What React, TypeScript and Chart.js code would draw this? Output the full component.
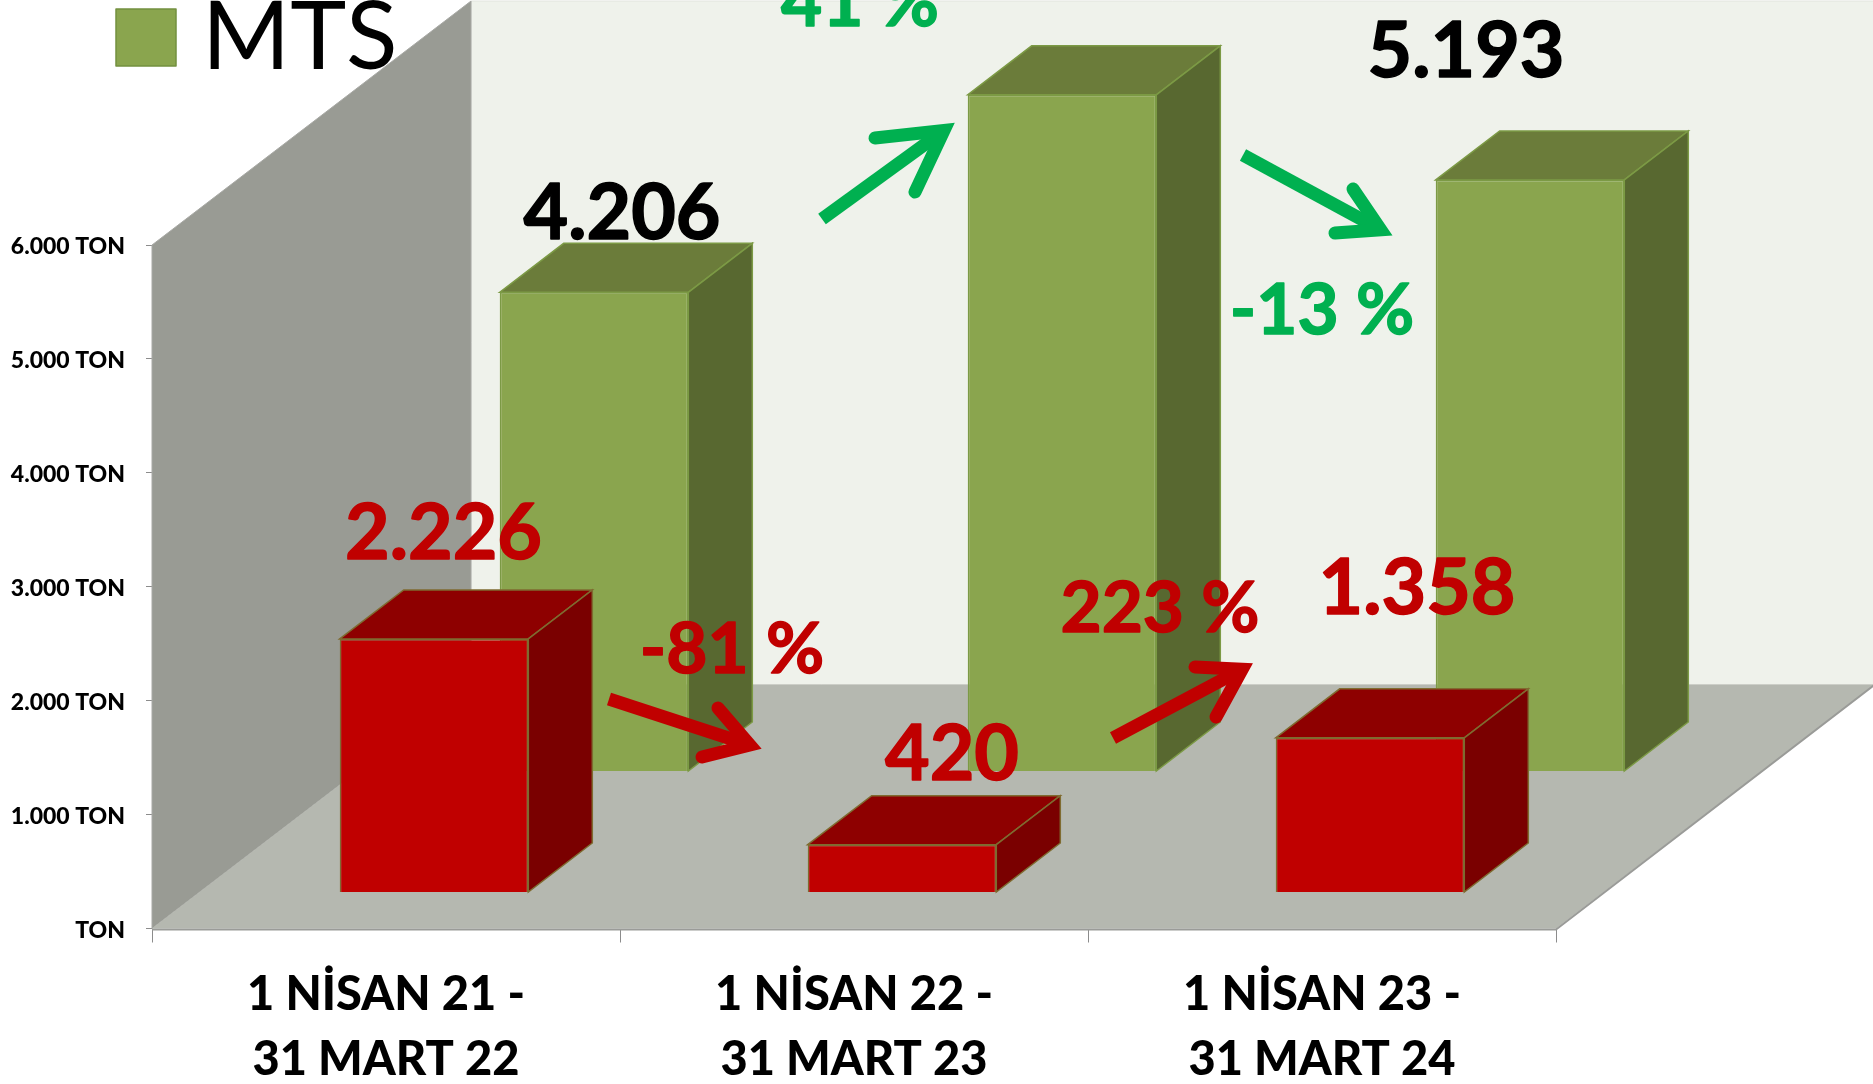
import React, { useEffect, useRef } from "react";
import { Chart, registerables } from "chart.js";

Chart.register(...registerables);

const categories = [
  ["1 NİSAN 21 -", "31 MART 22"],
  ["1 NİSAN 22 -", "31 MART 23"],
  ["1 NİSAN 23 -", "31 MART 24"],
];
const redValues = [2226, 420, 1358];
const mtsValues = [4206, 5940, 5193];
const yTickLabels = ["TON", "1.000 TON", "2.000 TON", "3.000 TON", "4.000 TON", "5.000 TON", "6.000 TON"];
const legendLabel = "MTS";

const FONT = "Lato, Carlito, Calibri, sans-serif";
const RED = "#C00000";
const ARROW_GREEN = "#00B050";

// plot geometry
const AREA = { left: 152, right: 1556, top: 245, bottom: 928.5 };
const FLOOR_DX = 319;
const FLOOR_DY = -244;
const BAR_DX = 64;
const BAR_DY = -49;

const faces: Record<string, any> = {
  red: { front: RED, top: "#8E0000", side: "#7A0000", line: "#7F6B30", offX: 48, offY: -36 },
  mts: { front: "#8AA54E", top: "#6B7C3A", side: "#586830", line: "#7C9A45", offX: 208, offY: -157 },
};

const annotations = [
  { text: "4.206", x: 622, y: 214.5, size: 77, color: "#000000" },
  { text: "5.193", x: 1466, y: 52.5, size: 77, color: "#000000" },
  { text: "2.226", x: 443.5, y: 534.5, size: 77, color: RED },
  { text: "420", x: 952, y: 755.5, size: 77, color: RED },
  { text: "1.358", x: 1417, y: 589.5, size: 77, color: RED },
  { text: "41 %", x: 860, y: 3, size: 71, color: ARROW_GREEN },
  { text: "-13 %", x: 1322, y: 311, size: 71, color: ARROW_GREEN },
  { text: "-81 %", x: 732, y: 650, size: 71, color: RED },
  { text: "223 %", x: 1160, y: 609, size: 71, color: RED },
];

const arrows = [
  { color: ARROW_GREEN, tail: [822, 219], tip: [957, 121], b1: [875, 138], b2: [915, 192] },
  { color: ARROW_GREEN, tail: [1243, 155], tip: [1396, 238], b1: [1353, 189], b2: [1335, 233] },
  { color: RED, tail: [609, 699], tip: [765, 750], b1: [718, 708], b2: [702, 757] },
  { color: RED, tail: [1113, 738], tip: [1256, 662], b1: [1195, 667], b2: [1216, 717] },
];

function poly(ctx: CanvasRenderingContext2D, pts: number[][], fill: string, stroke?: string, lw = 1) {
  ctx.beginPath();
  pts.forEach((p, i) => (i ? ctx.lineTo(p[0], p[1]) : ctx.moveTo(p[0], p[1])));
  ctx.closePath();
  ctx.fillStyle = fill;
  ctx.fill();
  if (stroke) {
    ctx.strokeStyle = stroke;
    ctx.lineWidth = lw;
    ctx.stroke();
  }
}

const scenePlugin = {
  id: "scene3d",
  beforeDatasetsDraw(chart: any) {
    const { ctx, chartArea: a } = chart;
    const bx = a.left + FLOOR_DX;
    const by = a.bottom + FLOOR_DY;
    const wallTop = a.top + FLOOR_DY;
    ctx.save();
    // back wall
    poly(ctx, [[bx, wallTop], [a.right + FLOOR_DX, wallTop], [a.right + FLOOR_DX, by], [bx, by]], "#EFF2EB", "#E2E4DE", 1);
    // left wall
    poly(ctx, [[a.left, a.top], [bx, wallTop], [bx, by], [a.left, a.bottom]], "#999B94", "#A8A9A5", 1);
    // floor
    poly(ctx, [[a.left, a.bottom], [a.right, a.bottom], [a.right + FLOOR_DX, by], [bx, by]], "#B5B8B0");
    ctx.strokeStyle = "#9A9B98";
    ctx.lineWidth = 2;
    ctx.beginPath();
    ctx.moveTo(a.left, a.bottom + 1);
    ctx.lineTo(a.right, a.bottom + 1);
    ctx.lineTo(a.right + FLOOR_DX, by);
    ctx.stroke();
    ctx.restore();
  },
  beforeDatasetDraw(chart: any, args: any) {
    const { ctx } = chart;
    const f = faces[chart.data.datasets[args.index].faceKey];
    ctx.save();
    ctx.translate(f.offX, f.offY);
    args.meta.data.forEach((bar: any) => {
      const { x, y, base, width } = bar.getProps(["x", "y", "base", "width"], true);
      const l = x - width / 2;
      const r = x + width / 2;
      poly(ctx, [[l, y], [l + BAR_DX, y + BAR_DY], [r + BAR_DX, y + BAR_DY], [r, y]], f.top, f.line, 1.5);
      poly(ctx, [[r, y], [r + BAR_DX, y + BAR_DY], [r + BAR_DX, base + BAR_DY], [r, base]], f.side, f.line, 1.5);
    });
  },
  afterDatasetDraw(chart: any) {
    chart.ctx.restore();
  },
  afterDatasetsDraw(chart: any) {
    const { ctx } = chart;
    ctx.save();
    // arrows
    arrows.forEach((ar) => {
      const lw = 13;
      const dir = [ar.tip[0] - ar.tail[0], ar.tip[1] - ar.tail[1]];
      const len = Math.hypot(dir[0], dir[1]);
      const u = [dir[0] / len, dir[1] / len];
      const v1 = [ar.b1[0] - ar.tip[0], ar.b1[1] - ar.tip[1]];
      const v2 = [ar.b2[0] - ar.tip[0], ar.b2[1] - ar.tip[1]];
      const cos = (v1[0] * v2[0] + v1[1] * v2[1]) / (Math.hypot(v1[0], v1[1]) * Math.hypot(v2[0], v2[1]));
      const half = Math.acos(cos) / 2;
      const inset = lw / 2 / Math.sin(half);
      const vx = ar.tip[0] - u[0] * inset;
      const vy = ar.tip[1] - u[1] * inset;
      ctx.strokeStyle = ar.color;
      ctx.lineWidth = lw;
      ctx.lineCap = "butt";
      ctx.beginPath();
      ctx.moveTo(ar.tail[0], ar.tail[1]);
      ctx.lineTo(vx, vy);
      ctx.stroke();
      ctx.lineCap = "round";
      ctx.lineJoin = "miter";
      ctx.miterLimit = 10;
      ctx.beginPath();
      ctx.moveTo(ar.b1[0], ar.b1[1]);
      ctx.lineTo(vx, vy);
      ctx.lineTo(ar.b2[0], ar.b2[1]);
      ctx.stroke();
    });
    // value and change labels
    ctx.textAlign = "center";
    ctx.textBaseline = "middle";
    ctx.lineJoin = "round";
    annotations.forEach((t) => {
      ctx.font = `bold ${t.size}px ${FONT}`;
      ctx.fillStyle = t.color;
      ctx.strokeStyle = t.color;
      ctx.lineWidth = 1.5;
      ctx.strokeText(t.text, t.x, t.y);
      ctx.fillText(t.text, t.x, t.y);
    });
    // legend
    poly(ctx, [[116, 9], [176, 9], [176, 66], [116, 66]], faces.mts.front, "#73903F", 1.5);
    ctx.textAlign = "left";
    ctx.textBaseline = "alphabetic";
    ctx.font = `95px ${FONT}`;
    ctx.fillStyle = "#000000";
    ctx.fillText(legendLabel, 202, 69);
    ctx.restore();
  },
};

export default function App() {
  const ref = useRef<HTMLCanvasElement>(null);
  useEffect(() => {
    if (!ref.current) return;
    const chart = new Chart(ref.current, {
      type: "bar",
      plugins: [scenePlugin],
      data: {
        labels: categories,
        datasets: [
          { label: "Kırmızı", data: redValues, faceKey: "red", backgroundColor: faces.red.front, borderColor: faces.red.line, borderWidth: 1.5, clip: false },
          { label: legendLabel, data: mtsValues, faceKey: "mts", backgroundColor: faces.mts.front, borderColor: faces.mts.line, borderWidth: 1.5, clip: false },
        ] as any,
      },
      options: {
        responsive: false,
        animation: false,
        devicePixelRatio: 1,
        layout: { padding: { left: 0, right: 1873 - AREA.right, top: AREA.top, bottom: 0 } },
        plugins: { legend: { display: false }, tooltip: { enabled: false } },
        datasets: { bar: { grouped: false, barPercentage: 0.403, categoryPercentage: 1 } },
        scales: {
          x: {
            afterFit: (s: any) => { s.height = 1084 - AREA.bottom; },
            grid: { drawOnChartArea: false, drawTicks: true, tickLength: 14, color: "#8C8C8C" },
            border: { display: false },
            ticks: {
              color: "#000000",
              padding: 20,
              maxRotation: 0,
              autoSkip: false,
              font: { family: FONT, size: 47, weight: "900", lineHeight: 1.38 },
            },
          },
          y: {
            min: 0,
            max: 6000,
            afterFit: (s: any) => { s.width = AREA.left; },
            grid: { drawOnChartArea: false, drawTicks: true, tickLength: 6, color: "#8C8C8C" },
            border: { display: false },
            ticks: {
              stepSize: 1000,
              color: "#000000",
              padding: 21,
              labelOffset: 2,
              font: { family: FONT, size: 23, weight: "900" },
              callback: (v: any) => yTickLabels[Math.round(Number(v) / 1000)],
            },
          },
        },
      } as any,
    });
    return () => chart.destroy();
  }, []);
  return (
    <canvas
      ref={ref}
      width={1873}
      height={1084}
      style={{ position: "absolute", left: 0, top: 0, display: "block" }}
    />
  );
}
